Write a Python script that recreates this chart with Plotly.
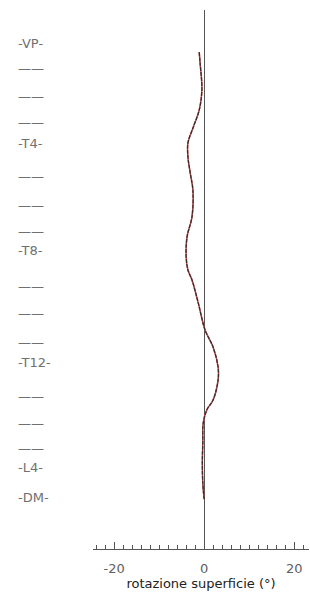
import plotly.graph_objects as go

# Vertebral levels (percent of trunk length from VP to DM)
level_labels = ["-VP-", "——", "——", "——", "-T4-", "——", "——", "——", "-T8-",
                "——", "——", "——", "-T12-", "——", "——", "——", "-L4-", "-DM-"]
level_pos = [0, 5.7, 11.7, 17.6, 22.2, 29.5, 35.7, 41.6, 45.6,
             53.7, 59.5, 65.9, 70.3, 77.8, 83.7, 89.4, 93.4, 100]

# Surface rotation curve (degrees) along trunk length (%)
trunk_pos = [2.0, 4.4, 10.4, 14.8, 18.5, 22.0, 25.1, 28.6, 32.4, 38.3, 42.7,
             47.1, 50.0, 52.2, 57.3, 63.2, 67.0, 71.4, 74.2, 78.6, 80.8, 83.7,
             88.1, 92.5, 96.9, 100.5]
rotation = [-1.1, -0.9, -0.5, -1.1, -2.4, -3.6, -3.6, -3.1, -2.5, -2.7, -3.8,
            -4.0, -3.6, -2.7, -1.3, 0.2, 2.0, 3.1, 3.1, 2.0, 0.6, -0.2,
            -0.3, -0.4, -0.3, 0.0]

x_ticks = [-20, 0, 20]

fig = go.Figure()
fig.add_trace(go.Scatter(x=rotation, y=trunk_pos, mode="lines",
                         line=dict(color="#d05050", width=1.5, shape="spline"),
                         hoverinfo="skip", showlegend=False))
fig.add_trace(go.Scatter(x=rotation, y=trunk_pos, mode="lines",
                         line=dict(color="#3a2a2a", width=1.3, shape="spline", dash="4px,1px"),
                         hoverinfo="skip", showlegend=False))

for lab, pos in zip(level_labels, level_pos):
    fig.add_annotation(text=lab, x=-0.356, xref="paper", xanchor="left",
                       y=pos, yref="y", yanchor="middle", showarrow=False,
                       font=dict(family="DejaVu Sans", size=13, color="#707070"))

fig.update_layout(
    width=310, height=596,
    margin=dict(l=93, r=1, t=10, b=47, autoexpand=False),
    paper_bgcolor="white", plot_bgcolor="white",
    font=dict(family="DejaVu Sans", size=12, color="#444444"),
    xaxis=dict(range=[-24.7, 23.3], tickvals=x_ticks, ticktext=[str(v) for v in x_ticks],
               showgrid=False, zeroline=True, zerolinecolor="#555555", zerolinewidth=1,
               showline=True, linecolor="#555555", linewidth=1, automargin=False,
               ticks="inside", ticklen=7, tickcolor="#555555",
               minor=dict(dtick=2, ticks="inside", ticklen=4, tickcolor="#555555", tick0=0),
               tickfont=dict(size=13, color="#606060"), ticklabelstandoff=7,
               title=dict(text="rotazione superficie (°)", standoff=0,
                          font=dict(size=13, color="#222222")),
               fixedrange=True),
    yaxis=dict(range=[111.45, -7.27], showticklabels=False, showgrid=False,
               zeroline=False, showline=False, ticks="", automargin=False,
               fixedrange=True),
)

fig.write_html("out.html", config={"displayModeBar": False},
               post_script="document.body.style.margin='0';")
